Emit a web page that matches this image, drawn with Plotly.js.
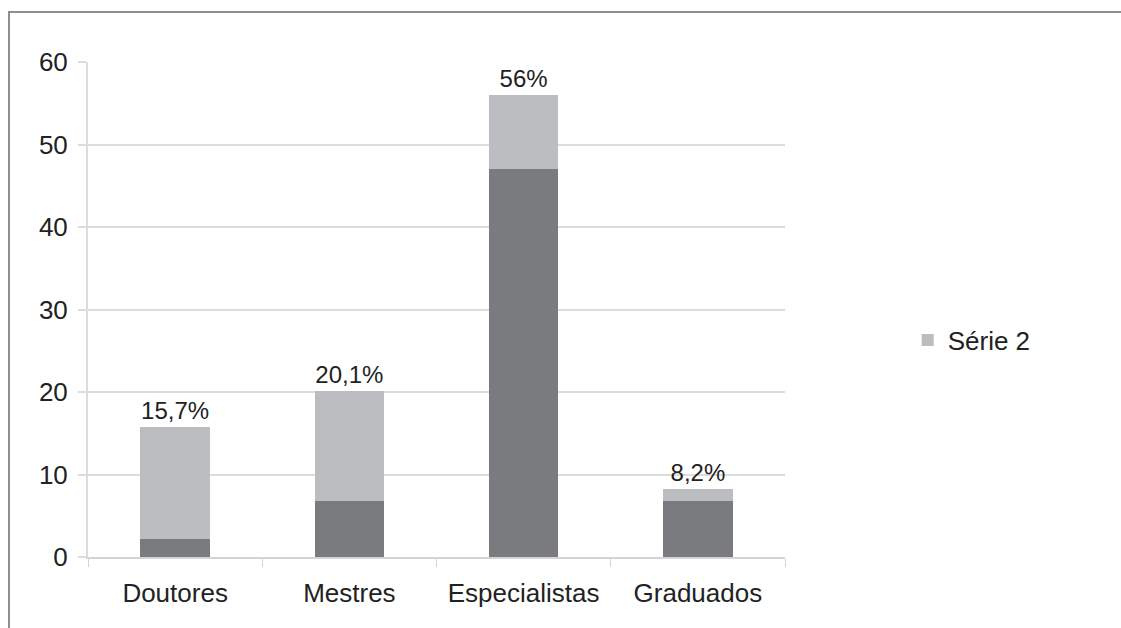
<!DOCTYPE html>
<html>
<head>
<meta charset="utf-8">
<script src="https://cdn.plot.ly/plotly-3.0.1.min.js"></script>
<style>
  html, body { margin: 0; padding: 0; background: #ffffff; }
  #wrap { position: relative; width: 1121px; height: 628px; overflow: hidden; }
  #chart { position: absolute; left: 0; top: 0; width: 1121px; height: 628px; }
  #frame {
    position: absolute; left: 8px; top: 11px; width: 1200px; height: 700px;
    border-top: 2px solid #8e8e8e; border-left: 2px solid #8e8e8e;
    pointer-events: none;
  }
</style>
</head>
<body>
<div id="wrap">
  <div id="chart"></div>
  <div id="frame"></div>
</div>
<script>
// Titulação do corpo docente (%)
const categorias = ['Doutores', 'Mestres', 'Especialistas', 'Graduados'];
const serie1 = [2.2, 6.8, 47.0, 6.8];      // parte inferior (escura)
const serie2 = [13.5, 13.3, 9.0, 1.4];     // parte superior (clara)
const rotulos = ['15,7%', '20,1%', '56%', '8,2%'];

const familia = 'Liberation Sans, Arial, sans-serif';
const fonteEixo = { family: familia, size: 26, color: '#222222' };
const fonteRotulo = { family: familia, size: 24, color: '#222222' };

const traces = [
  {
    type: 'bar', name: 'Série 1', x: categorias, y: serie1,
    marker: { color: '#797b7e' }, showlegend: false, hoverinfo: 'x+y'
  },
  {
    type: 'bar', name: 'Série 2', x: categorias, y: serie2,
    marker: { color: '#bbbdc0' },
    text: rotulos, textposition: 'outside', cliponaxis: false,
    textfont: fonteRotulo, hoverinfo: 'x+y'
  }
];

const layout = {
  width: 1121, height: 628,
  margin: { l: 88, r: 336, t: 62, b: 71, pad: 0 },
  paper_bgcolor: '#ffffff', plot_bgcolor: '#ffffff',
  barmode: 'stack', bargap: 0.6,
  font: fonteEixo,
  xaxis: {
    type: 'category',
    showgrid: false, showline: true, linecolor: '#d4d4d4', linewidth: 2,
    ticks: 'outside', tickson: 'boundaries', ticklen: 8, tickcolor: '#d4d4d4', tickwidth: 1,
    ticklabelstandoff: 12,
    tickfont: fonteEixo
  },
  yaxis: {
    range: [0, 60], dtick: 10,
    showgrid: true, gridcolor: '#dcdcdc', gridwidth: 2,
    zeroline: false,
    showline: true, linecolor: '#dcdcdc', linewidth: 2,
    ticks: 'outside', ticklen: 8, tickcolor: '#dcdcdc', tickwidth: 2,
    ticklabelstandoff: 5,
    tickfont: fonteEixo
  },
  legend: {
    x: 1.176, xanchor: 'left', y: 0.438, yanchor: 'middle',
    font: fonteEixo, bgcolor: 'rgba(0,0,0,0)', itemwidth: 30
  }
};

Plotly.newPlot('chart', traces, layout, { displayModeBar: false, staticPlot: true });
</script>
</body>
</html>
